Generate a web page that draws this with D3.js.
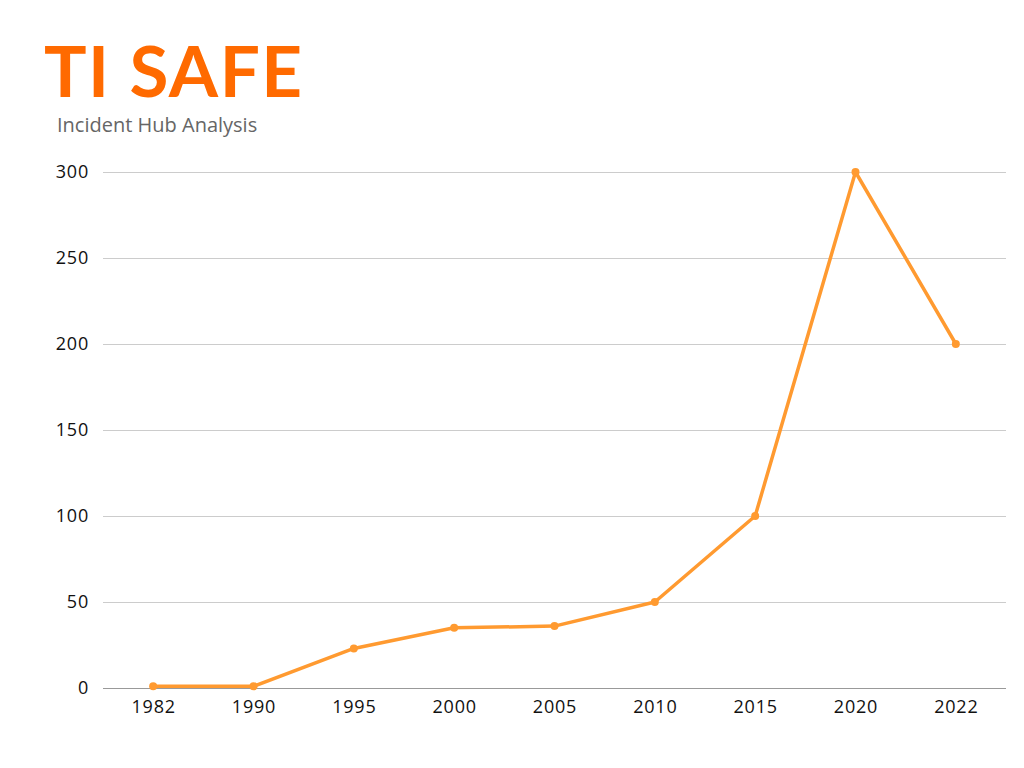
<!DOCTYPE html>
<html>
<head>
<meta charset="utf-8">
<script src="https://cdn.jsdelivr.net/npm/d3@7"></script>
<style>
  body { margin: 0; background: #fff; }
  text { font-family: "Open Sans", "Noto Sans", sans-serif; }
</style>
</head>
<body>
<div id="chart"></div>
<script>
const years = ["1982", "1990", "1995", "2000", "2005", "2010", "2015", "2020", "2022"];
const incidents = [1, 1, 23, 35, 36, 50, 100, 300, 200];
const yTicks = [0, 50, 100, 150, 200, 250, 300];

const width = 1024, height = 768;
const margin = { top: 172, right: 18, bottom: 80, left: 103 };

const svg = d3.select("#chart").append("svg")
    .attr("width", width)
    .attr("height", height);

// title
svg.append("text")
    .attr("x", 44).attr("y", 97)
    .attr("font-size", 71).attr("font-weight", 700)
    .attr("fill", "#ff6a00")
    .attr("letter-spacing", 1.5)
    .style("font-family", "Lato, 'Open Sans', sans-serif")
    .text("TI SAFE");

svg.append("text")
    .attr("x", 57).attr("y", 132)
    .attr("font-size", 20).attr("fill", "#666")
    .text("Incident Hub Analysis");

const innerW = width - margin.left - margin.right;
const innerH = height - margin.top - margin.bottom;

const g = svg.append("g")
    .attr("transform", `translate(${margin.left},${margin.top})`);

const x = d3.scalePoint().domain(years).range([0, innerW]).padding(0.5);
const y = d3.scaleLinear().domain([0, 300]).range([innerH, 0]);

// grid + y labels
const yAxis = g.append("g")
    .call(d3.axisLeft(y).tickValues(yTicks).tickSize(-innerW).tickPadding(14));
yAxis.select(".domain").remove();
yAxis.selectAll(".tick line").attr("stroke", "#ccc");
yAxis.selectAll(".tick").filter(d => d === 0).select("line").attr("stroke", "#999");
yAxis.selectAll("text").attr("font-size", 18).attr("fill", "#111")
    .attr("letter-spacing", 0.8)
    .style("font-family", "'Open Sans', sans-serif");

const xAxis = g.append("g")
    .attr("transform", `translate(0,${innerH})`)
    .call(d3.axisBottom(x).tickSize(0).tickPadding(12));
xAxis.select(".domain").remove();
xAxis.selectAll("text").attr("font-size", 18).attr("fill", "#111")
    .attr("letter-spacing", 0.8)
    .style("font-family", "'Open Sans', sans-serif");

const data = years.map((yr, i) => ({ year: yr, value: incidents[i] }));

g.append("path")
    .datum(data)
    .attr("fill", "none")
    .attr("stroke", "#ff9a30")
    .attr("stroke-width", 3.5)
    .attr("stroke-linejoin", "round")
    .attr("d", d3.line().x(d => x(d.year)).y(d => y(d.value)));

g.selectAll("circle")
    .data(data)
    .enter()
    .append("circle")
    .attr("cx", d => x(d.year))
    .attr("cy", d => y(d.value))
    .attr("r", 4)
    .attr("fill", "#ff9a30");
</script>
</body>
</html>
